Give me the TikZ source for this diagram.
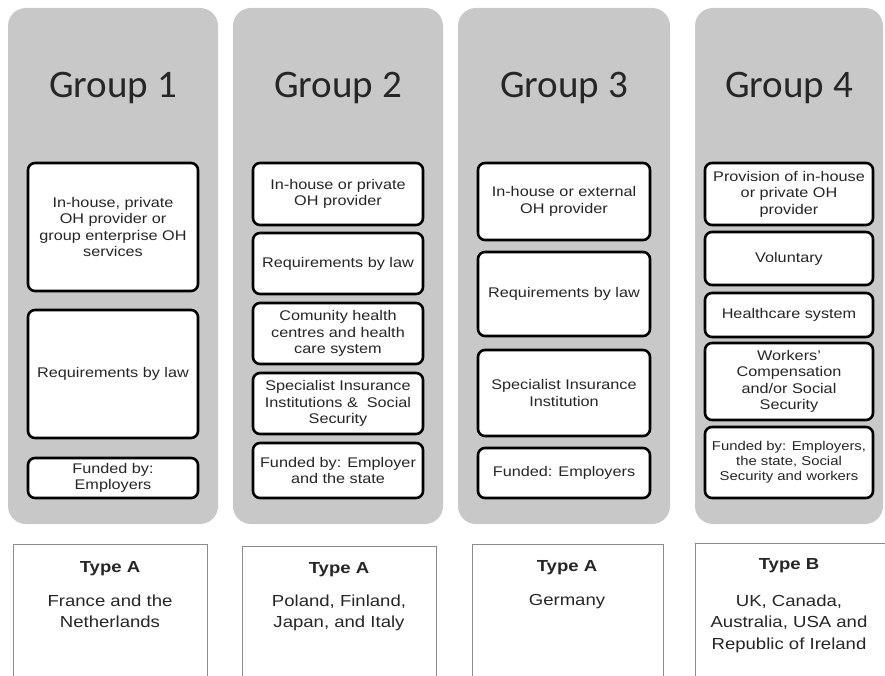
\documentclass[tikz,border=0pt]{standalone}
\usepackage{fontspec}
\setmainfont{Liberation Sans}[FakeStretch=1.16]
\newfontfamily\titlefont{Carlito}
\usetikzlibrary{positioning}
\definecolor{panelgray}{RGB}{200,200,200}
\definecolor{ink}{RGB}{38,38,38}
\definecolor{rulegray}{RGB}{140,140,140}
\tikzset{
  panel/.style={fill=panelgray, rounded corners=18pt, inner sep=0pt},
  grouptitle/.style={anchor=base, text=ink, font=\titlefont\fontsize{39}{40}\selectfont},
  cell/.style={draw=black, line width=2.6pt, fill=white, rounded corners=7pt, align=center,
    inner sep=1pt, text=ink, font=\fontsize{14}{16.5}\selectfont},
  typebox/.style={draw=rulegray, line width=0.9pt, fill=white, anchor=north, minimum height=160pt},
  typehead/.style={anchor=base, text=ink, font=\bfseries\fontsize{16}{20}\selectfont},
  typebody/.style={anchor=north, inner sep=0pt, align=center, text=ink, font=\fontsize{16}{21.5}\selectfont},
}
\begin{document}
\begin{tikzpicture}[x=1pt,y=-1pt]
       \path[use as bounding box, fill=white] (0,0) rectangle (885,676);
       \clip (0,0) rectangle (885,676);
       % grey columns
       \node[panel, minimum width=210pt, minimum height=516pt] (g1) at (113,266) {};
       \node[panel, minimum width=210pt, minimum height=516pt] (g2) at (338,266) {};
       \node[panel, minimum width=212pt, minimum height=516pt] (g3) at (564,266) {};
       \node[panel, minimum width=188pt, minimum height=516pt] (g4) at (789,266) {};
       \node[grouptitle] (t1) at (113,98) {Group 1};
       \node[grouptitle] (t2) at (338,98) {Group 2};
       \node[grouptitle] (t3) at (564,98) {Group 3};
       \node[grouptitle] (t4) at (789,98) {Group 4};
       % group 1
       \node[cell, minimum width=170pt, minimum height=128pt] (c11) at (113,227) {In-house, private\\OH provider or\\group enterprise OH\\services};
       \node[cell, minimum width=170pt, minimum height=128pt] (c12) at (113,374) {Requirements by law};
       \node[cell, minimum width=170pt, minimum height=40pt] (c13) at (113,478) {Funded by:\\Employers};
       % group 2
       \node[cell, minimum width=170pt, minimum height=62pt] (c21) at (338,194) {In-house or private\\OH provider};
       \node[cell, minimum width=170pt, minimum height=61pt] (c22) at (338,263.5) {Requirements by law};
       \node[cell, minimum width=170pt, minimum height=61pt] (c23) at (338,333.5) {Comunity health\\centres and health\\care system};
       \node[cell, minimum width=170pt, minimum height=61pt] (c24) at (338,403.5) {Specialist Insurance\\Institutions \& ~Social\\Security};
       \node[cell, minimum width=170pt, minimum height=55pt] (c25) at (338,470.5) {Funded by: Employer\\and the state};
       % group 3
       \node[cell, minimum width=172pt, minimum height=77pt] (c31) at (564,201.5) {In-house or external\\OH provider};
       \node[cell, minimum width=172pt, minimum height=84pt] (c32) at (564,294) {Requirements by law};
       \node[cell, minimum width=172pt, minimum height=86pt] (c33) at (564,393) {Specialist Insurance\\Institution};
       \node[cell, minimum width=172pt, minimum height=50pt] (c34) at (564,473) {Funded: Employers};
       % group 4
       \node[cell, minimum width=168pt, minimum height=62pt] (c41) at (789,194) {Provision of in-house\\or private OH\\provider};
       \node[cell, minimum width=168pt, minimum height=53pt] (c42) at (789,258.5) {Voluntary};
       \node[cell, minimum width=168pt, minimum height=44pt] (c43) at (789,315) {Healthcare system};
       \node[cell, minimum width=168pt, minimum height=77pt] (c44) at (789,381.5) {Workers'\\Compensation\\and/or Social\\Security};
       \node[cell, minimum width=168pt, minimum height=71pt, font=\fontsize{12.8}{15}\selectfont] (c45) at (789,462.5) {Funded by: Employers,\\the state, Social\\Security and workers};
       % type boxes
       \node[typebox, minimum width=194pt] (b1) at (110,544) {};
       \node[typebox, minimum width=194pt] (b2) at (339,546) {};
       \node[typebox, minimum width=191pt] (b3) at (567.5,544) {};
       \node[typebox, minimum width=197pt] (b4) at (793.5,543) {};
       \node[typehead] (h1) at (110,572) {Type A};
       \node[typehead] (h2) at (339,573) {Type A};
       \node[typehead] (h3) at (567,571) {Type A};
       \node[typehead] (h4) at (789,569) {Type B};
       \node[typebody] (n1) at (110,594.5) {France and the\\Netherlands};
       \node[typebody] (n2) at (339,594.5) {Poland, Finland,\\Japan, and Italy};
       \node[typebody] (n3) at (567,594.5) {Germany};
       \node[typebody] (n4) at (789,594.5) {UK, Canada,\\Australia, USA and\\Republic of Ireland};
\end{tikzpicture}
\end{document}
